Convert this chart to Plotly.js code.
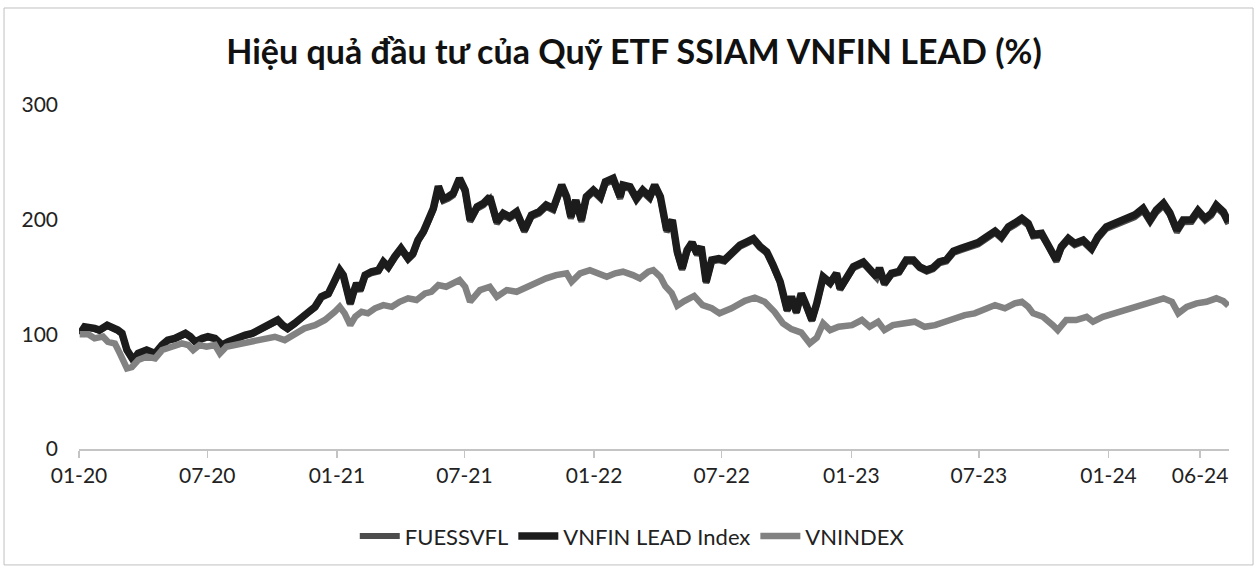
<!DOCTYPE html>
<html>
<head>
<meta charset="utf-8">
<script src="https://cdn.plot.ly/plotly-3.0.1.min.js"></script>
<style>
  html, body { margin: 0; padding: 0; background: #ffffff; }
  #chart { width: 1257px; height: 571px; }
</style>
</head>
<body>
<div id="chart"></div>
<script>
// ---- Data ----
var leadDates = [
 '2020-01-02','2020-01-09','2020-01-23','2020-01-30','2020-02-10','2020-02-17','2020-02-25','2020-03-02','2020-03-09','2020-03-18',
 '2020-03-25','2020-04-06','2020-04-18','2020-04-28','2020-05-06','2020-05-16','2020-05-31','2020-06-07','2020-06-14','2020-06-24',
 '2020-07-02','2020-07-12','2020-07-22','2020-07-31','2020-08-14','2020-08-24','2020-09-03','2020-09-11','2020-09-21','2020-09-30',
 '2020-10-09','2020-10-16','2020-10-23','2020-11-02','2020-11-12','2020-11-21','2020-12-01','2020-12-10','2020-12-20','2020-12-27',
 '2021-01-05','2021-01-10','2021-01-15','2021-01-20','2021-01-24','2021-01-29','2021-02-03','2021-02-10','2021-02-19','2021-03-01',
 '2021-03-08','2021-03-15','2021-03-24','2021-04-02','2021-04-12','2021-04-19','2021-04-26','2021-05-04','2021-05-11','2021-05-18',
 '2021-05-25','2021-06-01','2021-06-08','2021-06-15','2021-06-24','2021-07-02','2021-07-09','2021-07-19','2021-07-28','2021-08-06',
 '2021-08-16','2021-08-25','2021-09-03','2021-09-13','2021-09-24','2021-10-04','2021-10-15','2021-10-25','2021-11-04','2021-11-16',
 '2021-11-23','2021-11-29','2021-12-06','2021-12-14','2021-12-21','2021-12-31','2022-01-10','2022-01-17','2022-01-28','2022-02-07',
 '2022-02-11','2022-02-21','2022-03-02','2022-03-11','2022-03-21','2022-03-28','2022-04-05','2022-04-14','2022-04-22','2022-04-29',
 '2022-05-06','2022-05-13','2022-05-20','2022-05-27','2022-06-02','2022-06-09','2022-06-17','2022-06-27','2022-07-05','2022-07-18',
 '2022-07-27','2022-08-05','2022-08-15','2022-08-24','2022-09-03','2022-09-12','2022-09-22','2022-10-02','2022-10-08','2022-10-15',
 '2022-10-22','2022-10-29','2022-11-06','2022-11-13','2022-11-22','2022-12-02','2022-12-11','2022-12-16','2022-12-23','2023-01-04',
 '2023-01-18','2023-01-27','2023-02-06','2023-02-10','2023-02-17','2023-02-27','2023-03-10','2023-03-20','2023-03-30','2023-04-08',
 '2023-04-18','2023-04-27','2023-05-06','2023-05-16','2023-05-26','2023-06-06','2023-06-18','2023-06-30','2023-07-12','2023-07-24',
 '2023-08-02','2023-08-12','2023-08-21','2023-08-31','2023-09-09','2023-09-16','2023-09-28','2023-10-07','2023-10-19','2023-10-26',
 '2023-11-05','2023-11-14','2023-11-26','2023-12-08','2023-12-17','2023-12-29','2024-01-10','2024-01-24','2024-02-07','2024-02-19',
 '2024-02-29','2024-03-09','2024-03-19','2024-03-28','2024-04-07','2024-04-16','2024-04-28','2024-05-07','2024-05-17','2024-05-26',
 '2024-06-02','2024-06-12','2024-06-19'
];
var vnfinLead = [
 100,106.6,105.2,103.7,108,106.6,103.7,100.9,86.3,77.6,
 83.4,86.3,83.4,90.7,95,96.5,100.9,97.9,93.5,96.5,
 97.9,96.5,90.7,93.5,97.9,99.4,100.9,103.7,106.6,109.6,
 112.5,108,105.2,109.6,115.3,119.7,124,132.8,135.7,144.5,
 156,151.7,138.6,127,135.7,144.5,138.6,151.7,154.6,156,
 163.3,158.9,167.7,175,166.3,170.6,182.2,190,200,210,
 229,218,220,222.9,236,225.8,199.7,211.2,214.2,220,
 198.2,205.5,202.5,206.9,190.9,204,206.9,212.7,209.8,230.2,
 220,202.5,217,199.7,220,225.8,220,233,236,220,
 230.2,228.7,218.6,225.8,220,230.2,220,190.9,199.7,172,
 157.5,173.5,180,170.6,176.4,145.9,164.8,166,164.8,172,
 177.9,180.5,183.5,177,172,160.5,146,121.2,132.8,119.5,
 135.7,125.5,112.5,127,150.2,145,153.2,140,147,159,
 163,156,150.2,158,144.5,153.2,155,164.8,164.8,158.9,
 156,158,163.3,165,172.5,175,177.9,180,185.1,190,
 185.1,193.8,197,201.1,196.8,187,188,179.3,164.8,176.4,
 183.7,179.3,182.2,175,185.1,193.8,196.8,201.1,204,209.8,
 199.7,208.4,214.2,206,190.9,199.7,200,208,201.1,205.5,
 212.7,206.9,198.2
];
var fuessvfl = [
 100,106,104.6,103,107.2,105.8,103,100.2,85.8,77,
 82.8,85.6,82.9,90,94.3,95.8,100.1,97.2,92.9,95.8,
 97.1,95.8,90.1,92.8,97.1,98.6,100.1,102.9,105.7,108.7,
 111.6,107.2,104.4,108.7,114.4,118.8,123,131.8,134.6,143.4,
 154.8,150.5,137.5,126,134.6,143.3,137.5,150.5,153.3,154.7,
 162,157.6,166.3,173.6,165,169.2,180.8,188.5,198.4,208.3,
 227.2,216.3,218.2,221.1,234.2,224,198.1,209.5,212.5,218.2,
 196.6,203.8,200.9,205.2,189.3,202.3,205.2,211,208.1,228.3,
 218.2,200.8,215.2,198,218.2,224,218.2,231.1,234.1,218.2,
 228.3,226.8,216.7,223.9,218.1,228.3,218.1,189.3,198,170.5,
 156.1,172,178.5,169.1,174.9,144.6,163.4,164.6,163.4,170.5,
 176.4,179,182,175.5,170.5,159.1,144.7,120.1,131.6,118.4,
 134.5,124.4,111.5,125.9,148.9,143.7,151.9,138.8,145.7,157.6,
 161.6,154.7,148.9,156.6,143.2,151.8,153.6,163.3,163.3,157.5,
 154.6,156.6,161.8,163.5,170.9,173.4,176.3,178.3,183.4,188.3,
 183.4,192,195.2,199.2,195,185.3,186.3,177.6,163.3,174.8,
 182,177.6,180.5,173.4,183.3,192,194.9,199.1,202,207.7,
 197.8,206.3,212,204,189,197.7,198,205.9,199.1,203.4,
 210.5,204.8,196.2
];
var vnDates = [
 '2020-01-02','2020-01-14','2020-01-23','2020-02-04','2020-02-11','2020-02-21','2020-02-28','2020-03-09','2020-03-16','2020-03-25',
 '2020-04-06','2020-04-18','2020-04-28','2020-05-12','2020-05-26','2020-06-04','2020-06-11','2020-06-20','2020-06-30','2020-07-12',
 '2020-07-19','2020-07-28','2020-08-09','2020-08-24','2020-09-07','2020-09-21','2020-10-05','2020-10-19','2020-11-02','2020-11-16',
 '2020-12-01','2020-12-15','2020-12-29','2021-01-05','2021-01-12','2021-01-20','2021-01-27','2021-02-05','2021-02-14','2021-02-24',
 '2021-03-08','2021-03-20','2021-03-31','2021-04-12','2021-04-24','2021-05-06','2021-05-15','2021-05-25','2021-06-05','2021-06-15',
 '2021-06-24','2021-07-02','2021-07-09','2021-07-23','2021-08-06','2021-08-16','2021-08-30','2021-09-13','2021-09-27','2021-10-11',
 '2021-10-25','2021-11-08','2021-11-23','2021-11-30','2021-12-12','2021-12-26','2022-01-10','2022-01-19','2022-01-31','2022-02-11',
 '2022-02-25','2022-03-07','2022-03-19','2022-03-26','2022-04-05','2022-04-12','2022-04-21','2022-04-29','2022-05-09','2022-05-23',
 '2022-06-04','2022-06-17','2022-06-28','2022-07-15','2022-08-03','2022-08-17','2022-08-31','2022-09-14','2022-09-26','2022-10-08',
 '2022-10-22','2022-11-03','2022-11-13','2022-11-22','2022-12-02','2022-12-14','2023-01-02','2023-01-16','2023-01-27','2023-02-08',
 '2023-02-17','2023-03-01','2023-03-18','2023-04-01','2023-04-15','2023-04-30','2023-05-14','2023-05-28','2023-06-11','2023-06-25',
 '2023-07-10','2023-07-24','2023-08-07','2023-08-21','2023-08-31','2023-09-09','2023-09-16','2023-09-30','2023-10-14','2023-10-21',
 '2023-11-02','2023-11-16','2023-12-01','2023-12-10','2023-12-24','2024-01-08','2024-01-22','2024-02-05','2024-02-19','2024-03-04',
 '2024-03-19','2024-03-31','2024-04-09','2024-04-21','2024-05-05','2024-05-19','2024-06-02','2024-06-12','2024-06-19'
];
var vnindex = [
 100,100,96.5,98,93.5,92,83.4,70.3,71.5,77.6,
 80.5,79,86.3,89.2,92.1,90.7,86.3,90.7,89.2,90.7,
 83.4,89.2,90.7,92.1,93.5,95,97.9,95,100.9,105.2,
 108,112.5,119.7,124,118.3,108,115.3,119.7,118.3,122.7,
 125.5,124,128.4,131.4,129.9,135.7,137.1,143,141.5,144.5,
 147.3,141.5,128.4,138.6,141.5,132.8,138.6,137.1,141.5,144.5,
 148.8,151.7,153.2,145.9,153.2,156,151.7,150.2,153.2,154.6,
 151.7,148.8,154.6,156,150.2,142,136,125,129,133.5,
 125.5,122.7,118.3,122.7,129.2,132,128.4,119.7,109.6,104.5,
 101.5,92.1,97,109.6,103.7,106.6,108,112.5,106.6,111,
 103.7,108,109.6,111,106.6,108,111,114,116.8,118.3,
 122.7,125.5,122.7,127,128.4,124,118.3,115.3,108,103.7,
 112.5,112.5,115.3,111,115.3,118.3,121.2,124,127,128.4,
 131.4,128.4,118.3,124,127,128.4,131.4,129,125
];
var tickDates = ['2020-01-01','2020-07-01','2021-01-01','2021-07-01','2022-01-01','2022-07-01','2023-01-01','2023-07-01','2024-01-01','2024-05-10'];
var tickLabels = ['01-20','07-20','01-21','07-21','01-22','07-22','01-23','07-23','01-24','06-24'];
var yTicks = [0, 100, 200, 300];
var seriesNames = ['FUESSVFL', 'VNFIN LEAD Index', 'VNINDEX'];

var FONT = 'Lato, "Open Sans", "Liberation Sans", sans-serif';

var traces = [
  { x: leadDates, y: fuessvfl, name: seriesNames[0], type: 'scatter', mode: 'lines',
    line: { color: '#4d4d4d', width: 6 } },
  { x: leadDates, y: vnfinLead, name: seriesNames[1], type: 'scatter', mode: 'lines',
    line: { color: '#1c1c1c', width: 7.5 } },
  { x: vnDates, y: vnindex, name: seriesNames[2], type: 'scatter', mode: 'lines',
    line: { color: '#828282', width: 6.5 } }
];

var layout = {
  width: 1257, height: 571,
  paper_bgcolor: '#ffffff', plot_bgcolor: '#ffffff',
  margin: { l: 79, r: 28, t: 105, b: 122 },
  font: { family: FONT, color: '#222222', size: 21 },
  title: {
    text: '<b>Hiệu quả đầu tư của Quỹ ETF SSIAM VNFIN LEAD (%)</b>',
    font: { family: FONT, size: 34, color: '#111111' },
    x: 0.5044, xref: 'container', xanchor: 'center',
    y: 0.909, yref: 'container', yanchor: 'middle'
  },
  xaxis: {
    type: 'date',
    range: ['2020-01-01', '2024-06-20'],
    tickmode: 'array', tickvals: tickDates, ticktext: tickLabels,
    showgrid: false, zeroline: false,
    showline: true, linecolor: '#c4c4c4', linewidth: 2,
    ticks: 'outside', ticklen: 7, tickcolor: '#c4c4c4', tickwidth: 1.5,
    tickfont: { family: FONT, size: 21, color: '#222222' },
    fixedrange: true
  },
  yaxis: {
    range: [0, 300],
    tickmode: 'array', tickvals: yTicks,
    showgrid: false, zeroline: false, showline: false,
    ticks: '', ticklabelstandoff: 20,
    tickfont: { family: FONT, size: 21, color: '#222222' },
    fixedrange: true
  },
  showlegend: true,
  legend: {
    orientation: 'h',
    x: 0.503, xref: 'container', xanchor: 'center',
    y: 0.061, yref: 'container', yanchor: 'middle',
    font: { family: FONT, size: 22, color: '#222222' },
    itemwidth: 40,
    bgcolor: 'rgba(0,0,0,0)'
  },
  shapes: [
    { type: 'rect', xref: 'paper', yref: 'paper',
      x0: -0.0652, x1: 1.0209, y0: -0.337, y1: 1.282,
      line: { color: '#c0c0c0', width: 1 }, fillcolor: 'rgba(0,0,0,0)', layer: 'below' }
  ]
};

Plotly.newPlot('chart', traces, layout, { displayModeBar: false, staticPlot: true });
</script>
</body>
</html>
